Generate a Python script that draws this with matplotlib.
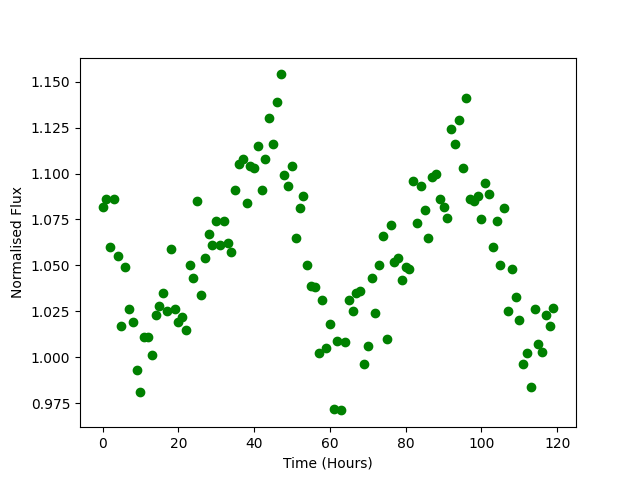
import matplotlib
matplotlib.use("Agg")
import matplotlib.pyplot as plt
import numpy as np

hours = np.arange(120)
flux = [
    1.082, 1.086, 1.060, 1.086, 1.055, 1.017, 1.049, 1.026, 1.019, 0.993,
    0.981, 1.011, 1.011, 1.001, 1.023, 1.028, 1.035, 1.025, 1.059, 1.026,
    1.019, 1.022, 1.015, 1.050, 1.043, 1.085, 1.034, 1.054, 1.067, 1.061,
    1.074, 1.061, 1.074, 1.062, 1.057, 1.091, 1.105, 1.108, 1.084, 1.104,
    1.103, 1.115, 1.091, 1.108, 1.130, 1.116, 1.139, 1.154, 1.099, 1.093,
    1.104, 1.065, 1.081, 1.088, 1.050, 1.039, 1.038, 1.002, 1.031, 1.005,
    1.018, 0.972, 1.009, 0.971, 1.008, 1.031, 1.025, 1.035, 1.036, 0.996,
    1.006, 1.043, 1.024, 1.050, 1.066, 1.010, 1.072, 1.052, 1.054, 1.042,
    1.049, 1.048, 1.096, 1.073, 1.093, 1.080, 1.065, 1.098, 1.100, 1.086,
    1.082, 1.076, 1.124, 1.116, 1.129, 1.103, 1.141, 1.086, 1.085, 1.088,
    1.075, 1.095, 1.089, 1.060, 1.074, 1.050, 1.081, 1.025, 1.048, 1.033,
    1.020, 0.996, 1.002, 0.984, 1.026, 1.007, 1.003, 1.023, 1.017, 1.027,
]

fig, ax = plt.subplots(figsize=(6.4, 4.8), dpi=100)
ax.plot(hours, flux, "o", color="green")
ax.set_xlabel("Time (Hours)")
ax.set_ylabel("Normalised Flux")

plt.savefig("out.png", dpi=100)
plt.close()
